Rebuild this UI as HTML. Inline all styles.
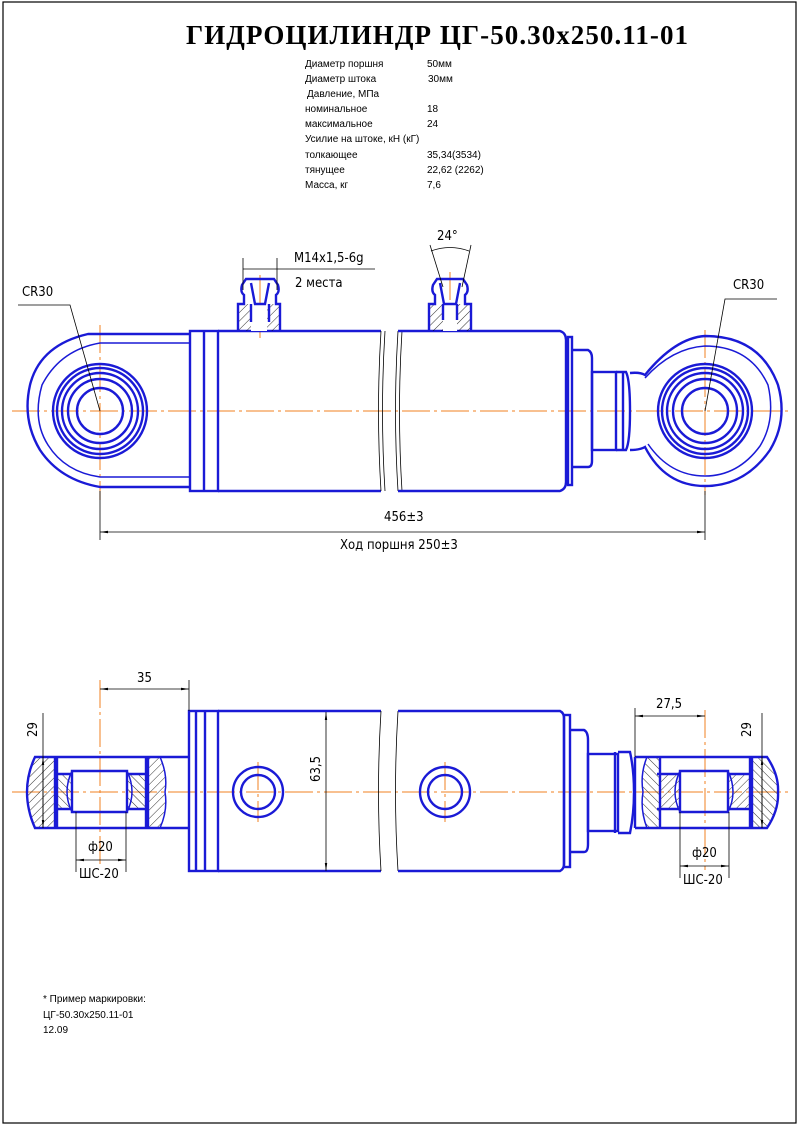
<!DOCTYPE html>
<html><head><meta charset="utf-8"><style>
html,body{margin:0;padding:0;background:#fff}
svg{display:block}
text{font-family:"Liberation Sans","DejaVu Sans",sans-serif}
.b{stroke:#1a1ad6;stroke-width:2.4;fill:none}
.bt{stroke:#1a1ad6;stroke-width:1.5;fill:none}
.k{stroke:#000;stroke-width:0.8;fill:none}
.o{stroke:#f08020;stroke-width:1;fill:none;stroke-dasharray:28 4 3 4}
.d{font-size:13px;fill:#000;font-family:"DejaVu Sans Condensed","DejaVu Sans",sans-serif}
.s{font-size:10px;fill:#000}
</style></head><body>
<svg width="798" height="1127" viewBox="0 0 798 1127" xmlns="http://www.w3.org/2000/svg">
<defs>
<pattern id="h" width="6" height="6" patternUnits="userSpaceOnUse" patternTransform="rotate(45)"><line x1="0" y1="0" x2="0" y2="6" stroke="#000" stroke-width="0.8"/></pattern>
<pattern id="h2" width="6" height="6" patternUnits="userSpaceOnUse" patternTransform="rotate(-45)"><line x1="0" y1="0" x2="0" y2="6" stroke="#000" stroke-width="0.8"/></pattern>
<marker id="a" markerWidth="10" markerHeight="4" refX="10" refY="2" orient="auto"><path d="M0,0.5 L10,2 L0,3.5z" fill="#000"/></marker>
<marker id="as" markerWidth="10" markerHeight="4" refX="0" refY="2" orient="auto"><path d="M10,0.5 L0,2 L10,3.5z" fill="#000"/></marker>
</defs>
<rect x="3" y="2" width="793" height="1121" fill="none" stroke="#000" stroke-width="1.2"/>
<text x="186" y="44" font-weight="bold" font-size="27" textLength="502" lengthAdjust="spacing" style="font-family:'Liberation Serif',serif">ГИДРОЦИЛИНДР  ЦГ-50.30х250.11-01</text>
<g class="s">
<text x="305" y="67">Диаметр поршня</text><text x="427" y="67">50мм</text>
<text x="305" y="82">Диаметр штока</text><text x="428" y="82">30мм</text>
<text x="307" y="97">Давление, МПа</text>
<text x="305" y="112">номинальное</text><text x="427" y="112">18</text>
<text x="305" y="127">максимальное</text><text x="427" y="127">24</text>
<text x="305" y="142">Усилие на штоке, кН (кГ)</text>
<text x="305" y="158">толкающее</text><text x="427" y="158">35,34(3534)</text>
<text x="305" y="173">тянущее</text><text x="427" y="173">22,62   (2262)</text>
<text x="305" y="188">Масса, кг</text><text x="427" y="188">7,6</text>
</g>

<!-- TOP VIEW -->
<line x1="12" y1="411" x2="790" y2="411" class="o"/>
<line x1="100" y1="325" x2="100" y2="500" class="o"/>
<line x1="705" y1="330" x2="705" y2="495" class="o"/>
<line x1="260" y1="275" x2="260" y2="338" class="o"/>
<line x1="450" y1="272" x2="450" y2="320" class="o"/>
<path class="b" d="M190,334 L88,334 Q40,345 30,385 Q22,420 40,450 Q60,480 100,487 L190,487"/>
<path class="bt" d="M190,343 L100,343 Q60,350 42,385 Q32,420 48,445 Q65,472 100,477 L190,477"/>
<circle cx="100" cy="411" r="47" class="b"/><circle cx="100" cy="411" r="43" class="b"/>
<circle cx="100" cy="411" r="38" class="b"/><circle cx="100" cy="411" r="32" class="b"/>
<circle cx="100" cy="411" r="23" class="b"/>
<rect x="190" y="331" width="28" height="160" class="b"/>
<line x1="204" y1="331" x2="204" y2="491" class="b"/>
<path class="b" d="M218,331 L381,331 M218,491 L381,491"/>
<path class="k" d="M381,331 Q376,411 381,491 M385,331 Q380,411 385,491"/>
<path class="k" d="M398,331 Q393,411 398,491 M402,331 Q397,411 402,491"/>
<path class="b" d="M398,331 L560,331 Q566,333 566,340 L566,482 Q566,489 560,491 L398,491"/>
<rect x="568" y="337" width="4" height="148" class="b"/>
<path class="b" d="M572,350 L588,350 Q592,352 592,358 L592,461 Q592,467 588,467 L572,467"/>
<rect x="592" y="372" width="24" height="78" class="b"/>
<path class="b" d="M616,372 L626,372 Q630,380 630,411 Q630,442 626,450 L616,450"/>
<line x1="623" y1="372" x2="623" y2="450" class="b"/>
<path class="b" d="M630,373 Q640,372 645,375 Q675,338 705,336 Q760,336 778,385 Q788,420 770,450 Q745,486 705,486 Q665,486 645,447 Q640,450 630,450"/>
<path class="bt" d="M645,378 Q672,348 705,346 Q750,346 768,385 Q776,420 760,446 Q738,476 705,476 Q670,476 648,444"/>
<circle cx="705" cy="411" r="47" class="b"/><circle cx="705" cy="411" r="43" class="b"/>
<circle cx="705" cy="411" r="38" class="b"/><circle cx="705" cy="411" r="32" class="b"/>
<circle cx="705" cy="411" r="23" class="b"/>
<rect x="238" y="304" width="42" height="27" fill="url(#h)" stroke="none"/>
<rect x="251" y="304" width="16" height="27" fill="#fff"/>
<path class="b" d="M238,331 L238,304 L244,304 L244,295 Q240,292 242,285 L246,279 L274,279 L278,285 Q280,292 276,295 L276,304 L280,304 L280,331"/>
<path class="b" d="M251,283 L255,304 L265,304 L269,283 M251,304 L251,322 M269,304 L269,322"/>
<rect x="429" y="304" width="42" height="27" fill="url(#h)" stroke="none"/>
<rect x="443" y="304" width="14" height="27" fill="#fff"/>
<path class="b" d="M429,331 L429,304 L435,304 L435,295 Q431,292 433,285 L437,279 L463,279 L467,285 Q469,292 465,295 L465,304 L471,304 L471,331"/>
<path class="b" d="M440,283 L444,304 L456,304 L460,283 M443,304 L443,320 M457,304 L457,320"/>
<line x1="243" y1="258" x2="243" y2="290" class="k"/><line x1="277" y1="258" x2="277" y2="290" class="k"/>
<line x1="243" y1="269" x2="375" y2="269" class="k"/>
<text x="294" y="262" class="d">M14x1,5-6g</text>
<text x="295" y="287" class="d">2 места</text>
<path class="k" d="M430,245 L443,287 M471,245 L462,287"/>
<path class="k" d="M431,251 Q450,244 469,251"/>
<text x="437" y="240" class="d">24°</text>
<text x="22" y="296" class="d">CR30</text>
<path class="k" d="M18,305 L70,305 L100,411"/>
<text x="733" y="289" class="d">CR30</text>
<path class="k" d="M777,299 L725,299 L705,411"/>
<line x1="100" y1="491" x2="100" y2="540" class="k"/><line x1="705" y1="491" x2="705" y2="540" class="k"/>
<line x1="100" y1="532" x2="705" y2="532" class="k" marker-start="url(#as)" marker-end="url(#a)"/>
<text x="384" y="521" class="d">456±3</text>
<text x="340" y="549" class="d">Ход поршня 250±3</text>

<!-- BOTTOM VIEW -->
<line x1="12" y1="792" x2="790" y2="792" class="o"/>
<line x1="100" y1="680" x2="100" y2="865" class="o"/>
<line x1="705" y1="710" x2="705" y2="870" class="o"/>
<line x1="258" y1="762" x2="258" y2="822" class="o"/>
<line x1="445" y1="762" x2="445" y2="822" class="o"/>
<path d="M35,757 L55,757 L55,828 L35,828 Q27,810 27,792 Q27,774 35,757z" fill="url(#h)" stroke="none"/>
<path d="M146,757 L160,757 Q168,775 165,792 Q168,810 160,828 L146,828z" fill="url(#h)" stroke="none"/>
<path d="M57,775 L72,775 L72,809 L57,809z M127,775 L146,775 L146,809 L127,809z" fill="url(#h2)" stroke="none"/>
<path class="b" d="M189,757 L35,757 Q27,774 27,792 Q27,810 35,828 L189,828"/>
<path class="b" d="M55,757 L55,828 M57,757 L57,828 M146,757 L146,828 M148,757 L148,828"/>
<path class="bt" d="M160,757 Q168,775 165,792 Q168,810 160,828"/>
<path class="b" d="M72,771 L127,771 L127,812 L72,812z"/>
<path class="bt" d="M72,771 Q62,792 72,812 M127,771 Q137,792 127,812"/>
<path class="b" d="M54,774 L72,774 M54,809 L72,809 M127,774 L146,774 M127,809 L146,809"/>
<rect x="189" y="711" width="29" height="160" class="b"/>
<line x1="196" y1="711" x2="196" y2="871" class="b"/><line x1="205" y1="711" x2="205" y2="871" class="b"/>
<path class="b" d="M218,711 L381,711 M218,871 L381,871"/>
<path class="k" d="M381,711 Q376,792 381,871 M398,711 Q393,792 398,871"/>
<path class="b" d="M398,711 L560,711 Q564,713 564,718 L564,864 Q564,869 560,871 L398,871"/>
<circle cx="258" cy="792" r="25" class="b"/><circle cx="258" cy="792" r="17" class="b"/>
<circle cx="445" cy="792" r="25" class="b"/><circle cx="445" cy="792" r="17" class="b"/>
<line x1="326" y1="712" x2="326" y2="871" class="k" marker-start="url(#as)" marker-end="url(#a)"/>
<text transform="translate(320,782) rotate(-90)" class="d">63,5</text>
<rect x="564" y="715" width="6" height="152" class="b"/>
<path class="b" d="M570,730 L584,730 Q588,732 588,740 L588,844 Q588,852 584,852 L570,852"/>
<rect x="588" y="754" width="30" height="77" class="b"/>
<path class="b" d="M618,752 L630,752 Q634,770 634,792 Q634,814 630,833 L618,833"/>
<line x1="615" y1="752" x2="615" y2="833" class="b"/>
<line x1="635" y1="757" x2="635" y2="828" class="b"/>
<path d="M647,757 L660,757 L660,828 L647,828 Q640,810 643,792 Q640,774 647,757z" fill="url(#h2)" stroke="none"/>
<path d="M750,757 L767,757 Q779,775 778,792 Q779,810 767,828 L750,828z" fill="url(#h2)" stroke="none"/>
<path d="M660,775 L680,775 L680,809 L660,809z M728,775 L750,775 L750,809 L728,809z" fill="url(#h)" stroke="none"/>
<path class="b" d="M635,757 L767,757 Q779,775 778,792 Q779,810 767,828 L635,828"/>
<path class="bt" d="M647,757 Q640,774 643,792 Q640,810 647,828"/>
<path class="b" d="M660,757 L660,828 M750,757 L750,828 M752,757 L752,828"/>
<path class="b" d="M680,771 L728,771 L728,812 L680,812z"/>
<path class="bt" d="M680,771 Q670,792 680,812 M728,771 Q738,792 728,812"/>
<path class="b" d="M657,774 L680,774 M657,809 L680,809 M728,774 L751,774 M728,809 L751,809"/>
<line x1="189" y1="680" x2="189" y2="711" class="k"/>
<line x1="100" y1="689" x2="189" y2="689" class="k" marker-start="url(#as)" marker-end="url(#a)"/>
<text x="137" y="682" class="d">35</text>
<line x1="43" y1="713" x2="43" y2="828" class="k"/>
<line x1="43" y1="757" x2="43" y2="828" class="k" marker-start="url(#as)" marker-end="url(#a)"/>
<text transform="translate(37,737) rotate(-90)" class="d">29</text>
<line x1="76" y1="812" x2="76" y2="872" class="k"/><line x1="126" y1="812" x2="126" y2="872" class="k"/>
<line x1="76" y1="860" x2="126" y2="860" class="k" marker-start="url(#as)" marker-end="url(#a)"/>
<text x="88" y="851" class="d">ф20</text>
<text x="79" y="878" class="d">ШС-20</text>
<line x1="635" y1="708" x2="635" y2="757" class="k"/>
<line x1="635" y1="716" x2="705" y2="716" class="k" marker-start="url(#as)" marker-end="url(#a)"/>
<text x="656" y="708" class="d">27,5</text>
<line x1="762" y1="713" x2="762" y2="828" class="k"/>
<line x1="762" y1="757" x2="762" y2="828" class="k" marker-start="url(#as)" marker-end="url(#a)"/>
<text transform="translate(751,737) rotate(-90)" class="d">29</text>
<line x1="680" y1="812" x2="680" y2="878" class="k"/><line x1="729" y1="812" x2="729" y2="878" class="k"/>
<line x1="680" y1="866" x2="729" y2="866" class="k" marker-start="url(#as)" marker-end="url(#a)"/>
<text x="692" y="857" class="d">ф20</text>
<text x="683" y="884" class="d">ШС-20</text>

<g class="s">
<text x="43" y="1002">* Пример маркировки:</text>
<text x="43" y="1018">ЦГ-50.30х250.11-01</text>
<text x="43" y="1033">12.09</text>
</g>
</svg>
</body></html>
